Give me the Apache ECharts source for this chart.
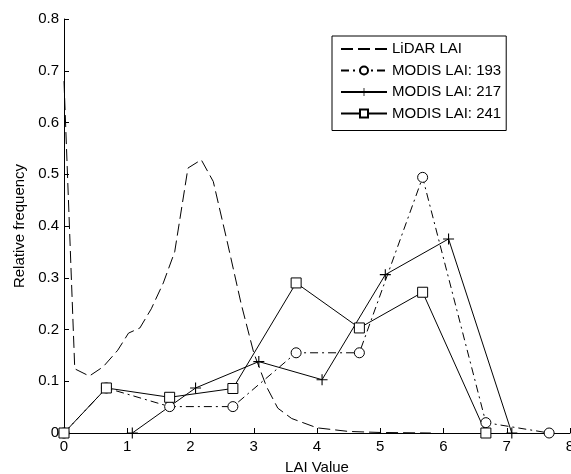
<!DOCTYPE html>
<html>
<head>
<meta charset="utf-8">
<script src="https://cdn.jsdelivr.net/npm/echarts@6/dist/echarts.min.js"></script>
<style>
  html, body { margin: 0; padding: 0; background: #fff; }
  #chart { width: 571px; height: 474px; }
</style>
</head>
<body>
<div id="chart"></div>
<script>
// LiDAR-derived LAI distribution
var lidarX = [0, 0.17, 0.4, 0.62, 0.85, 1.02, 1.2, 1.38, 1.57, 1.75, 1.96, 2.17, 2.36, 2.58, 2.8, 3.0, 3.2, 3.38, 3.6, 4.0, 4.5, 5.0, 5.8];
var lidarY = [0.68, 0.124, 0.11, 0.128, 0.16, 0.193, 0.203, 0.24, 0.29, 0.35, 0.512, 0.528, 0.486, 0.37, 0.25, 0.155, 0.09, 0.048, 0.028, 0.01, 0.003, 0.001, 0];

// MODIS LAI, day 193
var modis193X = [0, 0.67, 1.67, 2.67, 3.67, 4.67, 5.67, 6.67, 7.67];
var modis193Y = [0, 0.087, 0.051, 0.051, 0.155, 0.155, 0.494, 0.02, 0];

// MODIS LAI, day 217
var modis217X = [1.08, 2.08, 3.08, 4.08, 5.08, 6.08, 7.08];
var modis217Y = [0, 0.087, 0.138, 0.103, 0.306, 0.375, 0];

// MODIS LAI, day 241
var modis241X = [0, 0.67, 1.67, 2.67, 3.67, 4.67, 5.67, 6.67];
var modis241Y = [0, 0.087, 0.069, 0.086, 0.29, 0.203, 0.272, 0];

var seriesNames = ['LiDAR LAI', 'MODIS LAI: 193', 'MODIS LAI: 217', 'MODIS LAI: 241'];
var xTicks = [0, 1, 2, 3, 4, 5, 6, 7, 8];
var yTicks = [0, 0.1, 0.2, 0.3, 0.4, 0.5, 0.6, 0.7, 0.8];

function pairs(xs, ys) {
  return xs.map(function (x, i) { return [x, ys[i]]; });
}

var FONT = 'Liberation Sans, Arial, sans-serif';
// thin plus-shaped marker
var PLUS = 'path://M4.5,0h1v4.5h4.5v1h-4.5v4.5h-1v-4.5h-4.5v-1h4.5z';
var hollow = { color: '#fff', borderColor: '#000', borderWidth: 1 };

var chart = echarts.init(document.getElementById('chart'), null, { renderer: 'canvas' });

var axisCommon = {
  axisLine: { show: true, lineStyle: { color: '#000', width: 1 } },
  axisTick: { show: true, inside: true, length: 5, lineStyle: { color: '#000' } },
  splitLine: { show: false },
  nameTextStyle: { fontFamily: FONT, fontSize: 15, color: '#000' }
};

chart.setOption({
  animation: false,
  backgroundColor: '#fff',
  grid: { left: 64, right: 1, top: 19, bottom: 41, containLabel: false, outerBoundsMode: 'none' },
  xAxis: Object.assign({}, axisCommon, {
    type: 'value',
    min: xTicks[0],
    max: xTicks[xTicks.length - 1],
    interval: 1,
    name: 'LAI Value',
    nameLocation: 'middle',
    nameGap: 27,
    axisLabel: { fontFamily: FONT, fontSize: 15, color: '#000', margin: 6 }
  }),
  yAxis: Object.assign({}, axisCommon, {
    type: 'value',
    min: yTicks[0],
    max: yTicks[yTicks.length - 1],
    interval: 0.1,
    name: 'Relative frequency',
    nameLocation: 'middle',
    nameGap: 29,
    axisLabel: {
      fontFamily: FONT, fontSize: 15, color: '#000', margin: 5,
      formatter: function (v) { return String(Math.round(v * 10) / 10); }
    }
  }),
  legend: {
    orient: 'vertical',
    left: 332,
    top: 36,
    padding: [5.5, 5, 9.5, 8],
    itemWidth: 46,
    itemHeight: 10,
    itemGap: 6.5,
    borderColor: '#000',
    borderWidth: 1,
    borderRadius: 0,
    backgroundColor: '#fff',
    textStyle: { fontFamily: FONT, fontSize: 15, color: '#000' },
    data: [
      { name: seriesNames[0], itemStyle: { opacity: 0 } },
      seriesNames[1],
      seriesNames[2],
      seriesNames[3]
    ]
  },
  series: [
    {
      name: seriesNames[0], type: 'line', data: pairs(lidarX, lidarY),
      showSymbol: false, symbol: 'circle', symbolSize: 0,
      lineStyle: { color: '#000', width: 1, type: [12, 5] },
      itemStyle: { color: '#000' }
    },
    {
      name: seriesNames[1], type: 'line', data: pairs(modis193X, modis193Y),
      symbol: 'circle', symbolSize: 10,
      lineStyle: { color: '#000', width: 1, type: [8, 4, 2, 4] },
      itemStyle: hollow
    },
    {
      name: seriesNames[2], type: 'line', data: pairs(modis217X, modis217Y),
      symbol: PLUS, symbolSize: 11,
      lineStyle: { color: '#000', width: 1 },
      itemStyle: { color: '#000' }
    },
    {
      name: seriesNames[3], type: 'line', data: pairs(modis241X, modis241Y),
      symbol: 'rect', symbolSize: 10,
      lineStyle: { color: '#000', width: 1 },
      itemStyle: hollow
    }
  ]
});
</script>
</body>
</html>
